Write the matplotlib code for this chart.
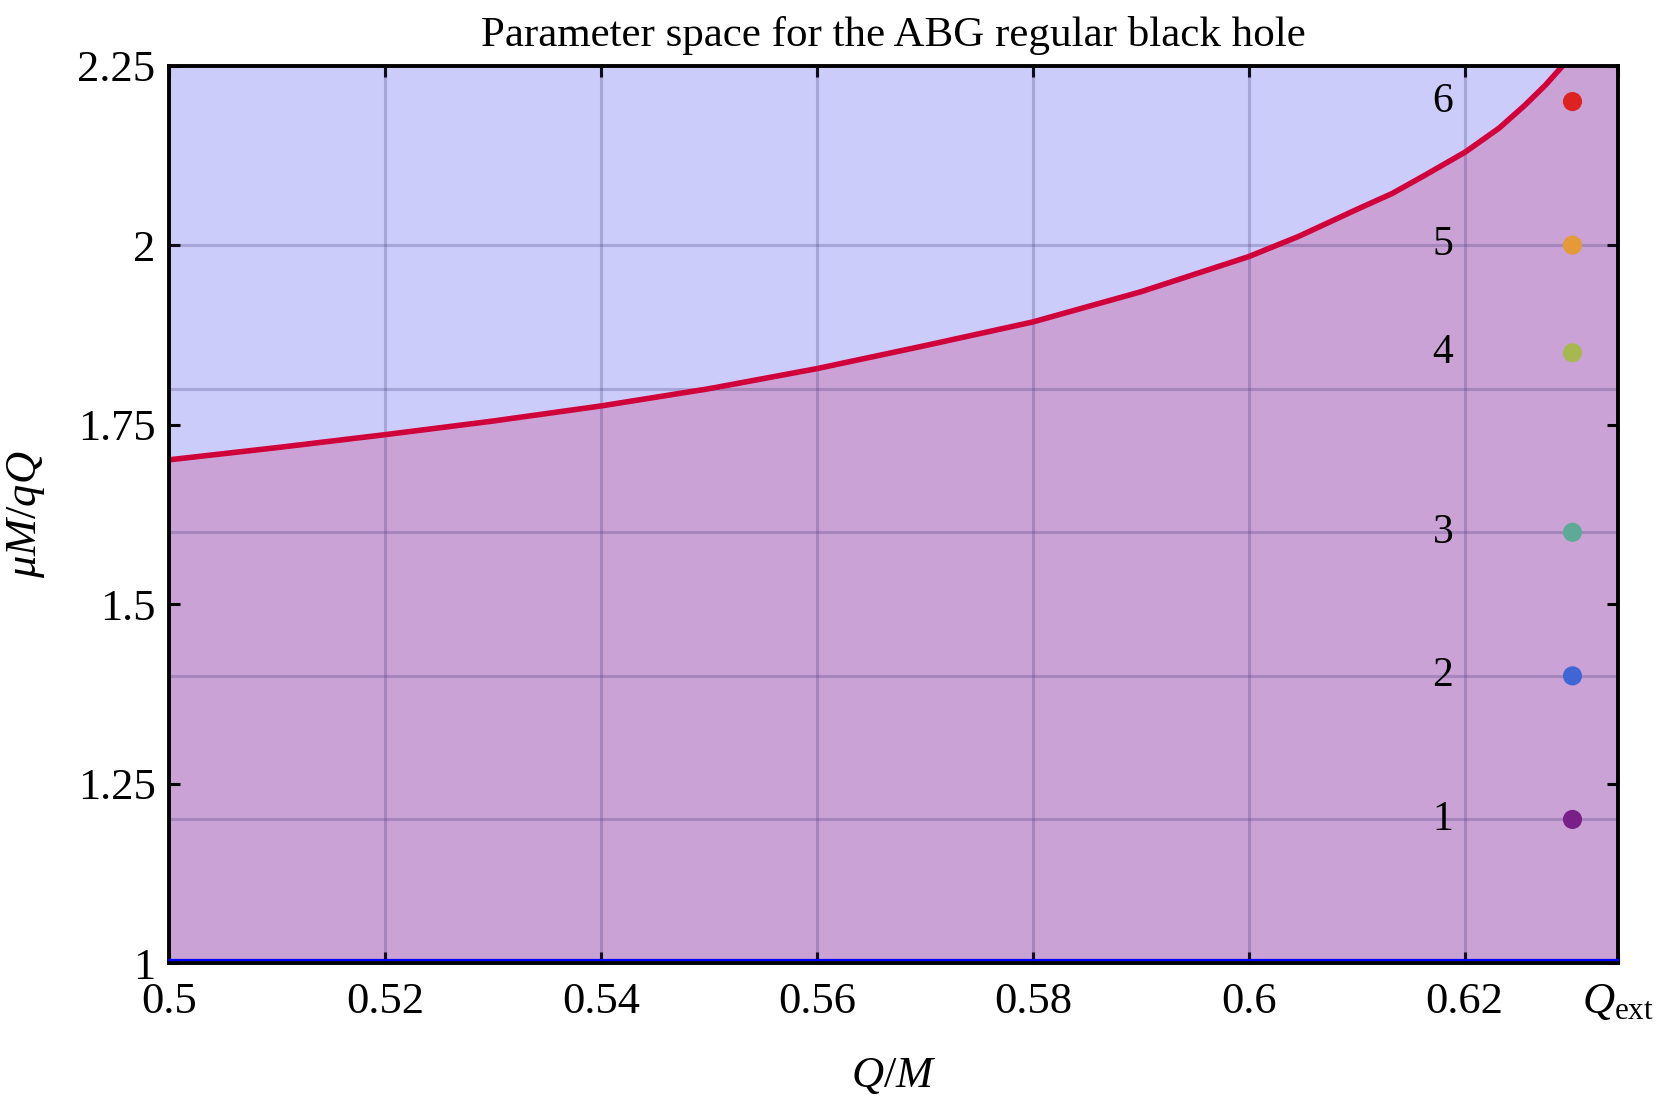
import numpy as np
import matplotlib
matplotlib.use('Agg')
import matplotlib.pyplot as plt
import matplotlib.transforms as mtransforms

plt.rcParams['font.family'] = ['Liberation Serif', 'DejaVu Serif']
plt.rcParams['mathtext.fontset'] = 'custom'
plt.rcParams['mathtext.rm'] = 'Liberation Serif'
plt.rcParams['mathtext.it'] = 'Liberation Serif:italic'

# boundary curve
q_curve = [0.500, 0.510, 0.520, 0.530, 0.540, 0.550, 0.560, 0.570, 0.580,
           0.590, 0.600, 0.6046, 0.6102, 0.6133, 0.6164, 0.6201, 0.6232,
           0.6256, 0.6275, 0.6291]
mu_curve = [1.701, 1.718, 1.736, 1.755, 1.776, 1.800, 1.828, 1.860, 1.893,
            1.935, 1.984, 2.012, 2.051, 2.072, 2.098, 2.130, 2.163,
            2.195, 2.223, 2.25]

q_ext = 0.6342

# sample points
pt_q = [0.63] * 6
pt_mu = [1.2, 1.4, 1.6, 1.85, 2.0, 2.2]
pt_lab = ['1', '2', '3', '4', '5', '6']
pt_col = ['#7a1f8a', '#3f66d4', '#5faa96', '#a8b850', '#e59a3a', '#dd2222']
lab_q = 0.618

grid_y = [1.2, 1.4, 1.6, 1.8, 2.0]
xticks = [0.5, 0.52, 0.54, 0.56, 0.58, 0.6, 0.62, q_ext]
xlabels = ['0.5', '0.52', '0.54', '0.56', '0.58', '0.6', '0.62', r'$Q_{\rm ext}$']
yticks = [1, 1.25, 1.5, 1.75, 2, 2.25]
ylabels = ['1', '1.25', '1.5', '1.75', '2', '2.25']

fig = plt.figure(figsize=(16.61, 11.11), dpi=100)
ax = fig.add_axes([0.102, 0.1332, 0.872, 0.8077])
ax.set_facecolor('#caa2d6')

ax.fill_between(q_curve, mu_curve, 2.25, color='#ccccfb', lw=0, zorder=1)

for g in xticks[1:-1]:
    ax.axvline(g, color=(0.25, 0.2, 0.45), alpha=0.25, lw=2.2, zorder=2)
for g in grid_y:
    ax.axhline(g, color=(0.25, 0.2, 0.45), alpha=0.25, lw=2.2, zorder=2)

# blue base line sitting just above the bottom spine
up = mtransforms.offset_copy(ax.transAxes, fig=fig, x=0, y=3, units='dots')
ax.plot([0, 1], [0, 0], transform=up, color='blue', lw=1.6, zorder=8, clip_on=False)
ax.plot(q_curve, mu_curve, color='#d0003a', lw=4, zorder=4)

ax.scatter(pt_q, pt_mu, s=190, c=pt_col, zorder=5, linewidths=0)
for m, lab in zip(pt_mu, pt_lab):
    ax.text(lab_q, m, lab, fontsize=30, ha='center', va='center', zorder=6)

ax.set_xlim(0.5, q_ext)
ax.set_ylim(1, 2.25)
ax.set_xticks(xticks)
ax.set_xticklabels(xlabels)
ax.set_yticks(yticks)
ax.set_yticklabels(ylabels)
ax.tick_params(direction='in', length=8, width=2.2, labelsize=32, top=True, right=True)
ax.tick_params(axis='x', pad=14)
ax.tick_params(axis='y', pad=10)
for s in ax.spines.values():
    s.set_linewidth(2.8)
    s.set_zorder(7)

ax.set_xlabel(r'$Q/M$', fontsize=32, labelpad=24)
ax.set_ylabel(r'$\mu M/qQ$', fontsize=32, labelpad=22)
ax.set_title('Parameter space for the ABG regular black hole', fontsize=31, pad=14)

fig.savefig('out.png', dpi=100)
